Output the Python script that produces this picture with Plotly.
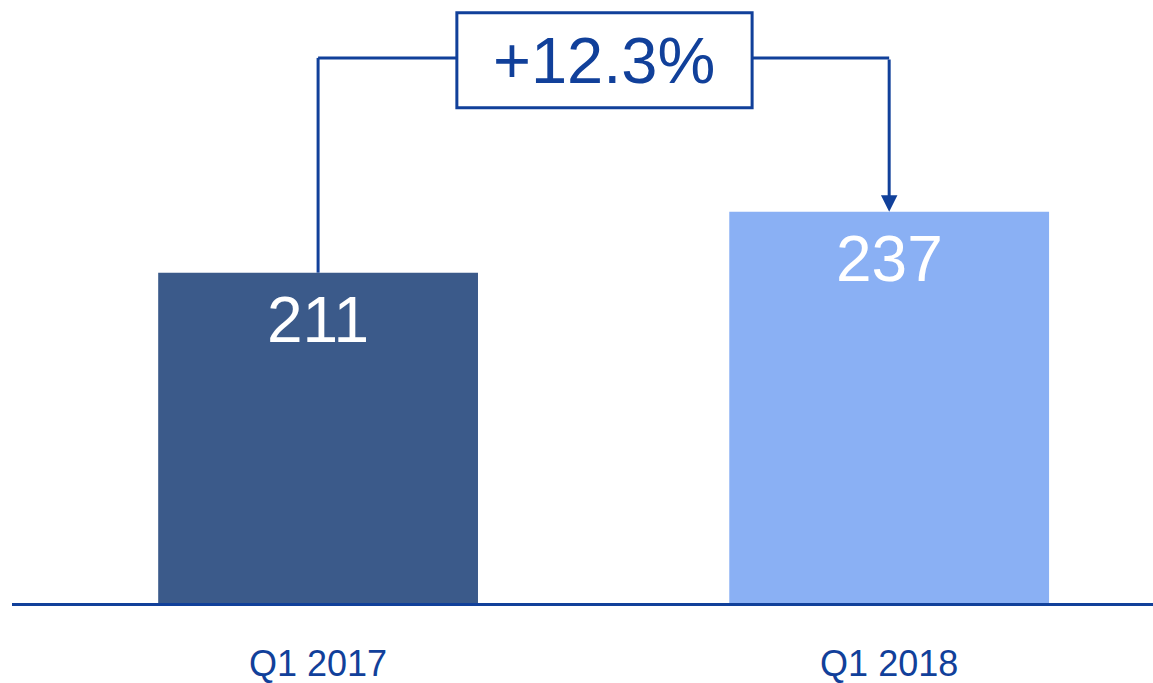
import plotly.graph_objects as go

categories = ["Q1 2017", "Q1 2018"]
values = [211, 237]
bar_colors = ["#3B5A8A", "#8AB0F4"]
change_label = "+12.3%"

LINE = "#11409A"
FONT = "Liberation Sans, Arial, sans-serif"

W, H = 1153, 683
y_min, y_max = 70.1, 327.3
x_min, x_max = -0.536, 1.462

fig = go.Figure()
fig.add_trace(go.Bar(
    x=[0, 1], y=values, width=0.56,
    marker=dict(color=bar_colors, line=dict(width=0)),
    hoverinfo="skip",
))

# value labels inside bars
for i, v in enumerate(values):
    fig.add_annotation(x=i, y=v, text=str(v), showarrow=False,
                       yanchor="middle", yshift=-47,
                       font=dict(family=FONT, size=64, color="white"))

# connector
level = 302.6
box_x0, box_x1 = 0.243, 0.760
box_y0, box_y1 = 281.3, 321.9
LW = 3
fig.add_shape(type="line", x0=0, x1=0, y0=values[0], y1=level,
              line=dict(color=LINE, width=LW))
fig.add_shape(type="line", x0=0, x1=box_x0, y0=level, y1=level,
              line=dict(color=LINE, width=LW))
fig.add_shape(type="line", x0=box_x1, x1=1, y0=level, y1=level,
              line=dict(color=LINE, width=LW))
fig.add_shape(type="rect", x0=box_x0, x1=box_x1, y0=box_y0, y1=box_y1,
              line=dict(color=LINE, width=LW), fillcolor="white")
fig.add_annotation(x=(box_x0 + box_x1) / 2, y=(box_y0 + box_y1) / 2,
                   text=change_label, showarrow=False, yanchor="middle",
                   font=dict(family=FONT, size=65, color=LINE))
fig.add_annotation(x=1, y=values[1], ax=1, ay=level, axref="x", ayref="y",
                   text="", showarrow=True, arrowhead=2, arrowsize=1.1,
                   arrowwidth=LW, arrowcolor=LINE, standoff=0)

fig.update_layout(
    width=W, height=H,
    margin=dict(l=12, r=0, t=0, b=79.5),
    paper_bgcolor="white", plot_bgcolor="white",
    showlegend=False,
    xaxis=dict(range=[x_min, x_max], tickvals=[0, 1], ticktext=categories,
               showgrid=False, zeroline=False, showline=True,
               linecolor=LINE, linewidth=3, ticks="", automargin=False,
               tickfont=dict(family=FONT, size=36, color=LINE),
               ticklabelstandoff=27),
    yaxis=dict(range=[y_min, y_max], visible=False, showgrid=False,
               automargin=False),
)

fig.write_html("out.html", config={"displayModeBar": False},
               post_script="document.body.style.margin='0';")
